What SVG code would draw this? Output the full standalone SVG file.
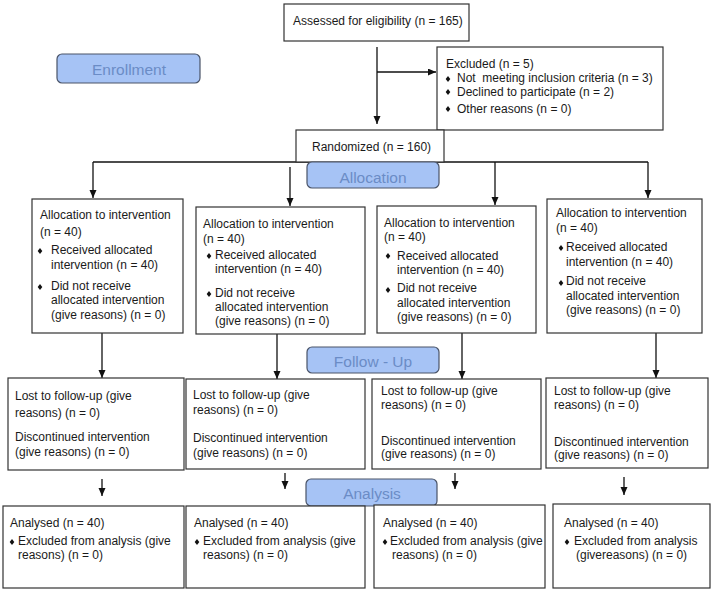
<svg xmlns="http://www.w3.org/2000/svg" xmlns:xlink="http://www.w3.org/1999/xlink" width="714" height="591" viewBox="0 0 714 591">
<style>
  .box { fill: #ffffff; stroke: #333333; stroke-width: 1.2; }
  .lab { fill: #a6c3f5; stroke: #4a5468; stroke-width: 1.2; }
  .t { font-family: "Liberation Sans", Arial, sans-serif; font-size: 12px; fill: #1a1a1a; }
  .lt { font-family: "Liberation Sans", Arial, sans-serif; font-size: 15.5px; fill: #6b8cc6; text-anchor: middle; }
  .c { stroke: #111111; stroke-width: 1.3; fill: none; }
  .ca { stroke: #111111; stroke-width: 1.3; fill: none; marker-end: url(#ah); }
</style>
<defs>
  <marker id="ah" markerUnits="userSpaceOnUse" markerWidth="9" markerHeight="8" refX="8" refY="3.5" orient="auto">
    <path d="M0,0 L8,3.5 L0,7 z" fill="#111111"/>
  </marker>
  <polygon id="bul" points="0,-3 2.3,0 0,3 -2.3,0" fill="#111111"/>
</defs>
<rect width="714" height="591" fill="#ffffff"/>

<g id="connectors">
  <line class="ca" x1="377" y1="47" x2="377" y2="124"/>
  <line class="ca" x1="377" y1="72" x2="436" y2="72"/>
  <line class="c" x1="93" y1="162" x2="648" y2="162"/>
  <line class="ca" x1="93" y1="162" x2="93" y2="198"/>
  <line class="ca" x1="290" y1="167" x2="290" y2="206"/>
  <line class="ca" x1="495" y1="162" x2="495" y2="205"/>
  <line class="ca" x1="648" y1="162" x2="648" y2="198"/>
  <line class="ca" x1="102" y1="333" x2="102" y2="378"/>
  <line class="ca" x1="277" y1="334" x2="277" y2="379"/>
  <line class="ca" x1="462" y1="333" x2="462" y2="379"/>
  <line class="ca" x1="656" y1="333" x2="656" y2="378"/>
  <line class="ca" x1="102" y1="479" x2="102" y2="496"/>
  <line class="ca" x1="285" y1="473" x2="285" y2="489"/>
  <line class="ca" x1="455" y1="473" x2="455" y2="489"/>
  <line class="ca" x1="624" y1="477" x2="624" y2="495"/>
</g>

<g id="assessed">
  <rect class="box" x="284" y="4" width="185" height="37"/>
  <text class="t" x="293" y="25">Assessed for eligibility (n = 165)</text>
</g>

<g id="enrollment">
  <rect class="lab" x="57" y="54" width="143" height="29" rx="5"/>
  <text class="lt" x="129" y="75">Enrollment</text>
</g>

<g id="excluded">
  <rect class="box" x="437" y="47" width="226" height="83"/>
  <text class="t" x="446" y="68">Excluded (n = 5)</text>
  <use xlink:href="#bul" x="448" y="79"/>
  <text class="t" x="457" y="82" xml:space="preserve">Not  meeting inclusion criteria (n = 3)</text>
  <use xlink:href="#bul" x="448" y="92"/>
  <text class="t" x="457" y="96">Declined to participate (n = 2)</text>
  <use xlink:href="#bul" x="448" y="109"/>
  <text class="t" x="457" y="113">Other reasons (n = 0)</text>
</g>

<g id="randomized">
  <rect class="box" x="296" y="130" width="148" height="32"/>
  <text class="t" x="312" y="151">Randomized (n = 160)</text>
</g>

<g id="allocation-label">
  <rect class="lab" x="307" y="162" width="132" height="26" rx="5"/>
  <text class="lt" x="373" y="183">Allocation</text>
</g>

<g id="alloc1">
  <rect class="box" x="32" y="199" width="151" height="134"/>
  <text class="t" x="40" y="219">Allocation to intervention</text>
  <text class="t" x="40" y="236">(n = 40)</text>
  <use xlink:href="#bul" x="40" y="251"/>
  <text class="t" x="51" y="254">Received allocated</text>
  <text class="t" x="51" y="269">intervention (n = 40)</text>
  <use xlink:href="#bul" x="40" y="287"/>
  <text class="t" x="51" y="290">Did not receive</text>
  <text class="t" x="51" y="304">allocated intervention</text>
  <text class="t" x="51" y="319">(give reasons) (n = 0)</text>
</g>

<g id="alloc2">
  <rect class="box" x="196" y="207" width="169" height="127"/>
  <text class="t" x="203" y="228">Allocation to intervention</text>
  <text class="t" x="203" y="243">(n = 40)</text>
  <use xlink:href="#bul" x="209" y="256"/>
  <text class="t" x="215" y="259">Received allocated</text>
  <text class="t" x="215" y="273">intervention (n = 40)</text>
  <use xlink:href="#bul" x="209" y="294"/>
  <text class="t" x="215" y="297">Did not receive</text>
  <text class="t" x="215" y="311">allocated intervention</text>
  <text class="t" x="215" y="325">(give reasons) (n = 0)</text>
</g>

<g id="alloc3">
  <rect class="box" x="377" y="206" width="159" height="127"/>
  <text class="t" x="384" y="227">Allocation to intervention</text>
  <text class="t" x="384" y="241">(n = 40)</text>
  <use xlink:href="#bul" x="388" y="256"/>
  <text class="t" x="397" y="260">Received allocated</text>
  <text class="t" x="397" y="274">intervention (n = 40)</text>
  <use xlink:href="#bul" x="388" y="290"/>
  <text class="t" x="397" y="292">Did not receive</text>
  <text class="t" x="397" y="307">allocated intervention</text>
  <text class="t" x="397" y="321">(give reasons) (n = 0)</text>
</g>

<g id="alloc4">
  <rect class="box" x="547" y="199" width="155" height="134"/>
  <text class="t" x="556" y="217">Allocation to intervention</text>
  <text class="t" x="556" y="232">(n = 40)</text>
  <use xlink:href="#bul" x="561" y="248"/>
  <text class="t" x="566" y="251">Received allocated</text>
  <text class="t" x="566" y="266">intervention (n = 40)</text>
  <use xlink:href="#bul" x="561" y="283"/>
  <text class="t" x="566" y="285">Did not receive</text>
  <text class="t" x="566" y="300">allocated intervention</text>
  <text class="t" x="566" y="314">(give reasons) (n = 0)</text>
</g>

<g id="followup-label">
  <rect class="lab" x="307" y="347" width="132" height="26" rx="5"/>
  <text class="lt" x="373" y="367">Follow - Up</text>
</g>

<g id="follow1">
  <rect class="box" x="8" y="378" width="176" height="92"/>
  <text class="t" x="15" y="400">Lost to follow-up (give</text>
  <text class="t" x="15" y="417">reasons) (n = 0)</text>
  <text class="t" x="15" y="441">Discontinued intervention</text>
  <text class="t" x="15" y="456">(give reasons) (n = 0)</text>
</g>

<g id="follow2">
  <rect class="box" x="186" y="379" width="179" height="90"/>
  <text class="t" x="193" y="399">Lost to follow-up (give</text>
  <text class="t" x="193" y="414">reasons) (n = 0)</text>
  <text class="t" x="193" y="442">Discontinued intervention</text>
  <text class="t" x="193" y="457">(give reasons) (n = 0)</text>
</g>

<g id="follow3">
  <rect class="box" x="372" y="379" width="169" height="90"/>
  <text class="t" x="381" y="395">Lost to follow-up (give</text>
  <text class="t" x="381" y="409">reasons) (n = 0)</text>
  <text class="t" x="381" y="445">Discontinued intervention</text>
  <text class="t" x="381" y="458">(give reasons) (n = 0)</text>
</g>

<g id="follow4">
  <rect class="box" x="546" y="378" width="162" height="90"/>
  <text class="t" x="554" y="395">Lost to follow-up (give</text>
  <text class="t" x="554" y="409">reasons) (n = 0)</text>
  <text class="t" x="554" y="446">Discontinued intervention</text>
  <text class="t" x="554" y="459">(give reasons) (n = 0)</text>
</g>

<g id="analysis-label">
  <rect class="lab" x="306" y="479" width="131" height="27" rx="5"/>
  <text class="lt" x="372" y="499">Analysis</text>
</g>

<g id="analysis1">
  <rect class="box" x="3" y="506" width="181" height="82"/>
  <text class="t" x="10" y="527">Analysed (n = 40)</text>
  <use xlink:href="#bul" x="12" y="542"/>
  <text class="t" x="18" y="545">Excluded from analysis (give</text>
  <text class="t" x="18" y="559">reasons) (n = 0)</text>
</g>

<g id="analysis2">
  <rect class="box" x="186" y="506" width="179" height="82"/>
  <text class="t" x="194" y="527">Analysed (n = 40)</text>
  <use xlink:href="#bul" x="197" y="542"/>
  <text class="t" x="203" y="545">Excluded from analysis (give</text>
  <text class="t" x="203" y="559">reasons) (n = 0)</text>
</g>

<g id="analysis3">
  <rect class="box" x="374" y="505" width="171" height="83"/>
  <text class="t" x="383" y="527">Analysed (n = 40)</text>
  <use xlink:href="#bul" x="385" y="542"/>
  <text class="t" x="390" y="545">Excluded from analysis (give</text>
  <text class="t" x="392" y="559">reasons) (n = 0)</text>
</g>

<g id="analysis4">
  <rect class="box" x="553" y="504" width="157" height="84"/>
  <text class="t" x="564" y="527">Analysed (n = 40)</text>
  <use xlink:href="#bul" x="567" y="542"/>
  <text class="t" x="574" y="545">Excluded from analysis</text>
  <text class="t" x="576" y="559">(givereasons) (n = 0)</text>
</g>
</svg>
